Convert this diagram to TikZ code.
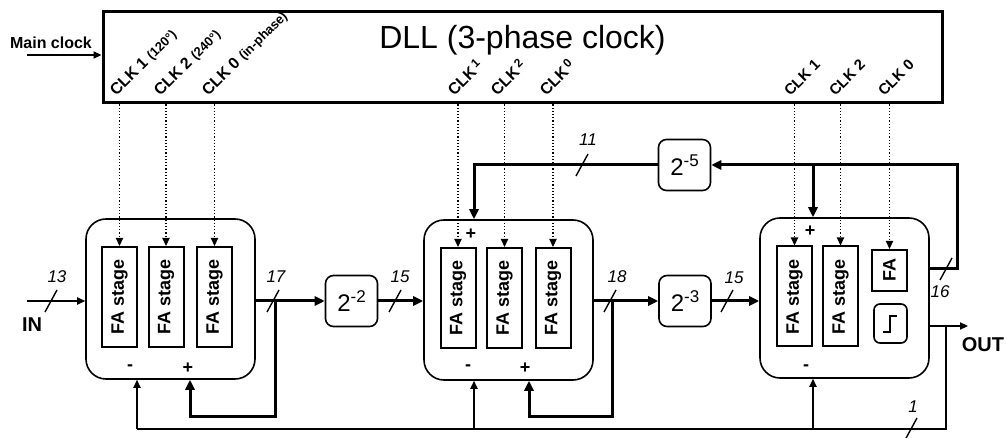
\documentclass[tikz,border=0pt]{standalone}
\usepackage{fontspec}
\setmainfont{Liberation Sans}
\usetikzlibrary{arrows.meta}

\begin{document}
\begin{tikzpicture}[x=0.5pt, y=-0.5pt,
    every node/.style={inner sep=0pt},
    arr/.style={-{Triangle[length=4pt,width=3.6pt]}},
    busarr/.style={-{Triangle[length=5pt,width=4.6pt]}},
    wire/.style={line width=0.7pt},
    bus/.style={line width=1.5pt},
    clkline/.style={densely dotted, line width=0.6pt, arr},
    adder/.style={draw, line width=0.8pt, rounded corners=10pt,
      minimum width=84.5pt, minimum height=80pt},
    fastage/.style={draw, line width=1pt, minimum width=17.5pt,
      minimum height=50pt, font=\fontsize{9}{10}\selectfont\bfseries},
    shifter/.style={draw, line width=0.8pt, rounded corners=4pt,
      minimum width=26pt, minimum height=25.5pt,
      font=\fontsize{12}{14}\selectfont},
    clklabel/.style={rotate=45, anchor=base west,
      font=\fontsize{8}{9}\selectfont\bfseries},
    bitlabel/.style={font=\fontsize{8.5}{10}\selectfont\itshape},
    sign/.style={font=\fontsize{9}{10}\selectfont\bfseries},
    portlabel/.style={font=\fontsize{10}{12}\selectfont\bfseries},
    buswd/.pic={\draw[wire] (-6,11) -- (6,-11);}
  ]
    \useasboundingbox (0,0) rectangle (1007,438);

    % DLL
    \node[draw, line width=1.5pt, minimum width=419.5pt,
      minimum height=45.5pt] (dll) at (522.5,57.5) {};
    \node[font=\fontsize{16}{18}\selectfont] (dlltitle) at (522.5,40)
      {DLL (3-phase clock)};
    \node[font=\fontsize{8}{9}\selectfont\bfseries] (mclk) at (51,43)
      {Main clock};
    \coordinate (mclkin) at (27,55);
    \draw[wire, arr] (mclkin) -- (mclkin -| dll.west);

    \node[clklabel] (c11) at (116,97)
      {CLK 1 {\fontsize{6.5}{7}\selectfont(120°)}};
    \node[clklabel] (c12) at (160,97)
      {CLK 2 {\fontsize{6.5}{7}\selectfont(240°)}};
    \node[clklabel] (c10) at (208,97)
      {CLK 0 {\fontsize{6.5}{7}\selectfont(in-phase)}};
    \node[clklabel] (c21) at (454,97)
      {CLK\,\raisebox{2.5pt}{\fontsize{6}{6}\selectfont 1}};
    \node[clklabel] (c22) at (497,97)
      {CLK\,\raisebox{2.5pt}{\fontsize{6}{6}\selectfont 2}};
    \node[clklabel] (c20) at (546,97)
      {CLK\,\raisebox{2.5pt}{\fontsize{6}{6}\selectfont 0}};
    \node[clklabel, font=\fontsize{7.5}{8}\selectfont\bfseries] (c31)
      at (790,97) {CLK 1};
    \node[clklabel, font=\fontsize{7.5}{8}\selectfont\bfseries] (c32)
      at (835,97) {CLK 2};
    \node[clklabel, font=\fontsize{7.5}{8}\selectfont\bfseries] (c30)
      at (884,97) {CLK 0};

    % adders
    \node[adder] (add1) at (170.5,299) {};
    \node[adder] (add2) at (508.5,300) {};
    \node[adder] (add3) at (844.5,298) {};

    \node[fastage] (fa11) at (119.5,297) {\rotatebox{90}{FA stage}};
    \node[fastage] (fa12) at (166,297) {\rotatebox{90}{FA stage}};
    \node[fastage] (fa13) at (214.5,297) {\rotatebox{90}{FA stage}};
    \node[fastage] (fa21) at (458,298) {\rotatebox{90}{FA stage}};
    \node[fastage] (fa22) at (504.5,298) {\rotatebox{90}{FA stage}};
    \node[fastage] (fa23) at (553,298) {\rotatebox{90}{FA stage}};
    \node[fastage] (fa31) at (794.5,296.5) {\rotatebox{90}{FA stage}};
    \node[fastage] (fa32) at (840.5,296.5) {\rotatebox{90}{FA stage}};
    \node[fastage, minimum height=20.5pt] (fa33) at (889.5,270.5)
      {\rotatebox{90}{FA}};
    \node[draw, line width=0.8pt, rounded corners=3pt, minimum width=16.5pt,
      minimum height=19.5pt] (thr) at (890.5,323.5) {};
    \draw[line width=0.6pt] (883,332) -- (890,332) -- (890,316) -- (897,316);

    \foreach \f in {fa11,fa12,fa13,fa21,fa22,fa23,fa31,fa32,fa33}
      \draw[clkline] (\f.north |- dll.south) -- (\f.north);

    \node[sign] (m1) at (130,368) {-};
    \node[sign] (p1) at (188,368) {+};
    \node[sign] (m2) at (468,368) {-};
    \node[sign] (p2) at (525,368) {+};
    \node[sign] (q2) at (471,234) {+};
    \node[sign] (m3) at (806,368) {-};
    \node[sign] (q3) at (810,231) {+};

    % shifters
    \node[shifter] (sh2) at (351.5,301)
      {2\raisebox{4.5pt}{\fontsize{8.5}{9}\selectfont -2}};
    \node[shifter] (sh3) at (685,301)
      {2\raisebox{4.5pt}{\fontsize{8.5}{9}\selectfont -3}};
    \node[shifter] (sh5) at (684.5,165)
      {2\raisebox{4.5pt}{\fontsize{8.5}{9}\selectfont -5}};

    % data path
    \coordinate (in) at (27,301);
    \draw[wire, arr] (in) -- (in -| add1.west);
    \pic at (51,301) {buswd};
    \node[bitlabel] (w13) at (57,277) {13};
    \node[portlabel] (inlabel) at (32,325) {IN};

    \draw[bus, busarr] (add1.east |- sh2) -- (sh2.west);
    \coordinate (j1) at (275,301);
    \coordinate (fb1) at (190,416);
    \draw[bus, busarr] (j1) |- (fb1) -- (fb1 |- add1.south);
    \pic at (273,301) {buswd};
    \node[bitlabel] (w17) at (276,277) {17};

    \draw[bus, busarr] (sh2.east) -- (sh2 -| add2.west);
    \pic at (395,301) {buswd};
    \node[bitlabel] (w15a) at (400,277) {15};

    \draw[bus, busarr] (add2.east |- sh3) -- (sh3.west);
    \coordinate (j2) at (612,301);
    \coordinate (fb2) at (529,416);
    \draw[bus, busarr] (j2) |- (fb2) -- (fb2 |- add2.south);
    \pic at (610,301) {buswd};
    \node[bitlabel] (w18) at (617,277) {18};

    \draw[bus, busarr] (sh3.east) -- (sh3 -| add3.west);
    \pic at (727,301) {buswd};
    \node[bitlabel] (w15b) at (734,278) {15};

    % feedback through 2^-5
    \coordinate (j3) at (957,269);
    \draw[bus, busarr] (add3.east |- j3) -| (j3 |- sh5) -- (sh5.east);
    \pic at (946,269) {buswd};
    \node[bitlabel] (w16) at (940,292) {16};
    \coordinate (k3) at (813,165);
    \draw[bus, busarr] (k3) -- (k3 |- add3.north);
    \coordinate (k2) at (474,165);
    \draw[bus, busarr] (sh5.west) -- (k2) -- (k2 |- add2.north);
    \pic at (582,165) {buswd};
    \node[bitlabel] (w11) at (588,140) {11};

    % output and sign bit
    \coordinate (outend) at (968,326);
    \draw[wire, arr] (add3.east |- outend) -- (outend);
    \node[portlabel] (outlabel) at (983,345) {OUT};
    \coordinate (ob) at (946,326);
    \coordinate (bl) at (137,429);
    \draw[wire] (ob) |- (bl);
    \draw[wire, arr] (bl) -- (bl |- add1.south);
    \coordinate (u2) at (474,429);
    \draw[wire, arr] (u2) -- (u2 |- add2.south);
    \coordinate (u3) at (813,429);
    \draw[wire, arr] (u3) -- (u3 |- add3.south);
    \pic at (911,429) {buswd};
    \node[bitlabel] (w1) at (913,407) {1};
\end{tikzpicture}
\end{document}
